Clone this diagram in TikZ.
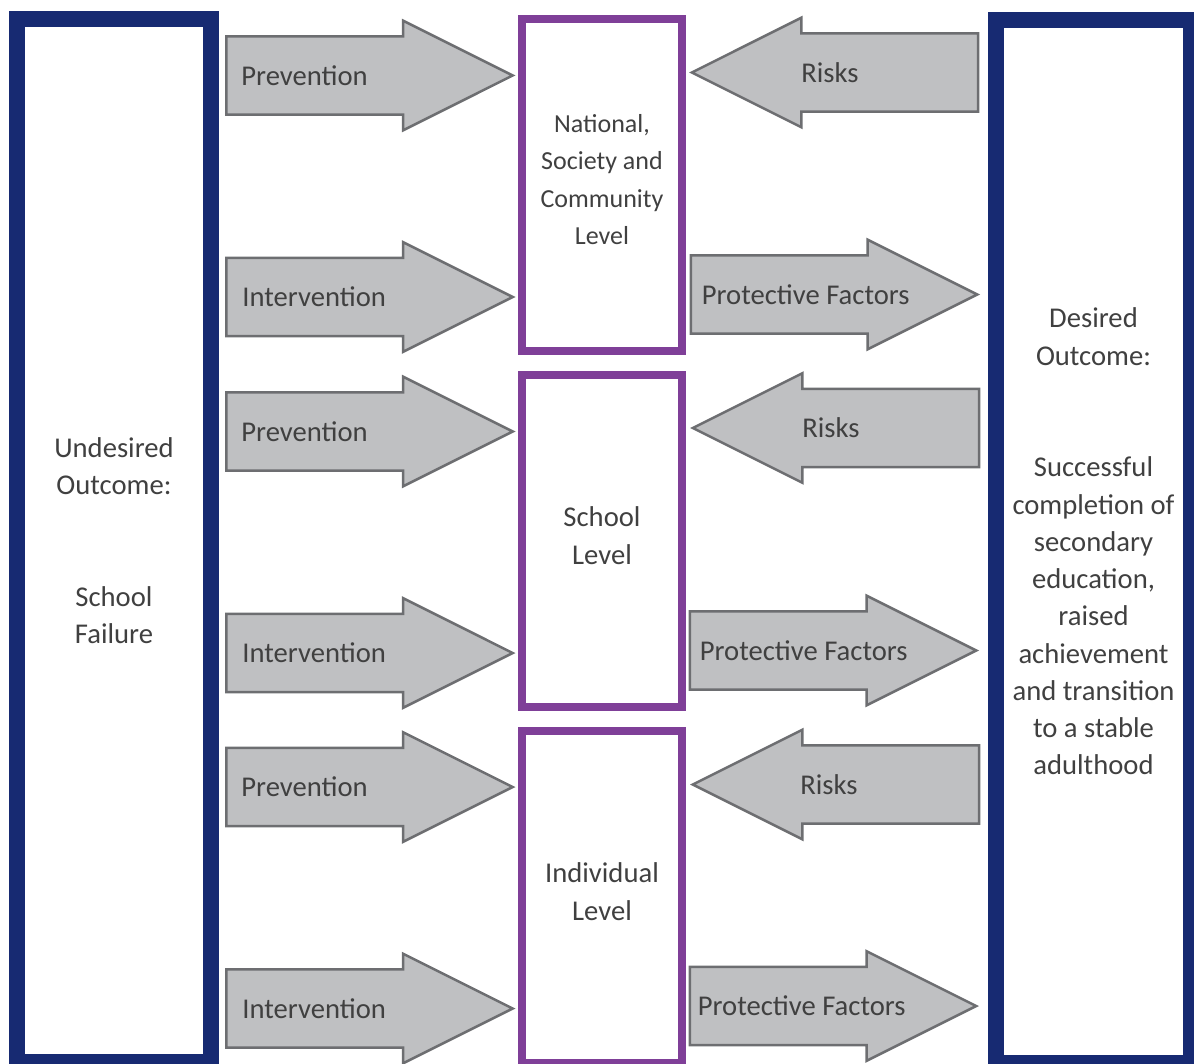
\documentclass[tikz,border=0pt]{standalone}
\usepackage{fontspec}
\setmainfont{Carlito}
\usetikzlibrary{shapes.arrows,positioning}
\definecolor{outblue}{HTML}{172A72}
\definecolor{lvlpurple}{HTML}{7F3F98}
\definecolor{arrowfill}{HTML}{BFC0C2}
\definecolor{arrowline}{HTML}{6D6E71}
\definecolor{txtgrey}{HTML}{404040}
\tikzset{outbox/.style={draw=outblue,line width=0.32cm,minimum width=3.88cm,minimum height=20.87cm,inner sep=0pt,align=center,text=txtgrey,font=\fontsize{16.3pt}{21.2pt}\selectfont}}
\tikzset{lvlbox/.style={draw=lvlpurple,line width=0.16cm,minimum width=3.2cm,minimum height=6.64cm,inner sep=0pt,text depth=0.22cm,align=center,text=txtgrey,font=\fontsize{16.3pt}{21.2pt}\selectfont}}
\tikzset{blockarrow/.style={single arrow,draw=arrowline,line width=0.05cm,fill=arrowfill,minimum height=5.73cm,inner xsep=0pt,inner ysep=0.76cm,single arrow head extend=0.31cm,single arrow tip angle=53.13,anchor=tip}}
\tikzset{rarrow/.style={blockarrow}}
\tikzset{larrow/.style={blockarrow,shape border rotate=180}}
\tikzset{lbl/.style={inner sep=0pt,text=txtgrey,font=\fontsize{16.3pt}{21.2pt}\selectfont}}

\begin{document}
\begin{tikzpicture}[x=0.02cm,y=-0.02cm]
\useasboundingbox (0,0) rectangle (1194,1064);
\clip (0,0) rectangle (1194,1064);
%
{
\node (u1) [outbox] at (114,540.3) {Undesired\\Outcome:\\[2\baselineskip]School\\Failure};
\node (d1) [outbox,minimum width=3.9cm] at (1093.5,541.5) {Desired\\Outcome:\\[2\baselineskip]Successful\\completion of\\secondary\\education,\\raised\\achievement\\and transition\\to a stable\\adulthood};
}
%
{
\node (l1) [lvlbox,font=\fontsize{14.8pt}{21.2pt}\selectfont] at (602,185) {National,\\Society and\\Community\\Level};
\node (l2) [lvlbox] at (602,541) {School\\Level};
\node (l3) [lvlbox] at (602,897) {Individual\\Level};
}
%
{
\node (p1) [rarrow] at (515.5,75.5) {};
\node (i1) [rarrow] at (515.5,297) {};
\node (p2) [rarrow] at (515.5,431.5) {};
\node (i2) [rarrow] at (515.5,653) {};
\node (p3) [rarrow] at (515.5,787) {};
\node (i3) [rarrow] at (515.5,1008.5) {};
\node (p1t) [lbl,right=0.32cm of p1.tail] {Prevention};
\node (i1t) [lbl,right=0.34cm of i1.tail] {Intervention};
\node (p2t) [lbl,right=0.32cm of p2.tail] {Prevention};
\node (i2t) [lbl,right=0.34cm of i2.tail] {Intervention};
\node (p3t) [lbl,right=0.32cm of p3.tail] {Prevention};
\node (i3t) [lbl,right=0.34cm of i3.tail] {Intervention};
}
%
{
\node (r1) [larrow] at (689,72.5) {};
\node (f1) [rarrow] at (980,294.5) {};
\node (r2) [larrow] at (690,428) {};
\node (f2) [rarrow] at (979,650.5) {};
\node (r3) [larrow] at (690,784.5) {};
\node (f3) [rarrow] at (979,1006) {};
\node (r1t) [lbl,right=2.24cm of r1.tip] {Risks};
\node (f1t) [lbl,right=0.24cm of f1.tail] {Protective Factors};
\node (r2t) [lbl,right=2.24cm of r2.tip] {Risks};
\node (f2t) [lbl,right=0.22cm of f2.tail] {Protective Factors};
\node (r3t) [lbl,right=2.2cm of r3.tip] {Risks};
\node (f3t) [lbl,right=0.18cm of f3.tail] {Protective Factors};
}
\end{tikzpicture}
\end{document}
